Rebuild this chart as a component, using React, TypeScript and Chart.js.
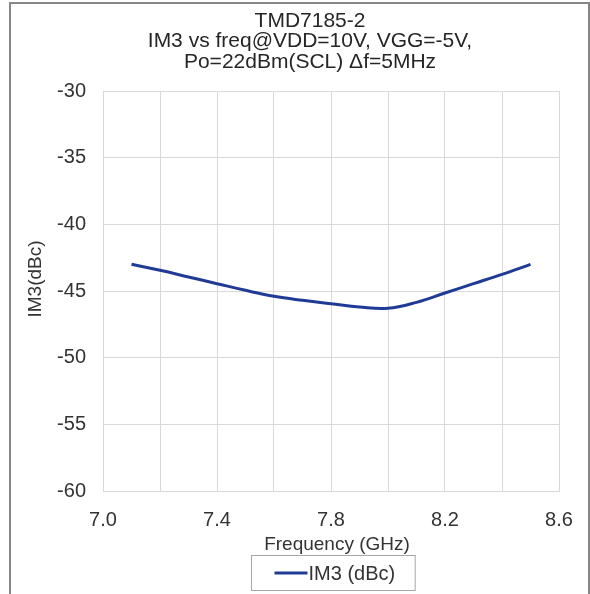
import React, { useEffect, useRef } from "react";
import { Chart, registerables } from "chart.js";

Chart.register(...registerables);

const titleLines = ["TMD7185-2", "IM3 vs freq@VDD=10V, VGG=-5V,", "Po=22dBm(SCL) \u0394f=5MHz"];
const xAxisTitle = "Frequency (GHz)";
const yAxisTitle = "IM3(dBc)";
const seriesLabel = "IM3 (dBc)";

const freqGHz = [7.1, 7.2, 7.3, 7.4, 7.5, 7.6, 7.7, 7.8, 7.9, 8.0, 8.1, 8.2, 8.3, 8.4, 8.5];
const im3dBc = [-43.0, -43.45, -43.95, -44.45, -44.95, -45.4, -45.7, -45.95, -46.2, -46.3, -45.85, -45.15, -44.45, -43.75, -43.0];

const xMin = 7.0;
const xMax = 8.6;
const xStep = 0.2;
const yMin = -60;
const yMax = -30;
const yStep = 5;

const FONT = "'Liberation Sans', Arial, sans-serif";
const TEXT = "#333333";
const LINE = "#1f3b95";
const GRID = "#d9d9d9";

const textPlugin = {
  id: "customTexts",
  afterDraw(chart: any) {
    const ctx = chart.ctx;
    const area = chart.chartArea;
    const cx = (area.left + area.right) / 2;
    ctx.save();
    ctx.fillStyle = "#262626";
    ctx.font = `21px ${FONT}`;
    ctx.textAlign = "center";
    ctx.textBaseline = "alphabetic";
    const tx = cx - 21;
    const baselines = [27, 47, 68];
    titleLines.forEach((t, i) => ctx.fillText(t, tx, baselines[i]));

    // y title
    ctx.fillStyle = TEXT;
    ctx.font = `19px ${FONT}`;
    ctx.save();
    ctx.translate(41, (area.top + area.bottom) / 2 - 12);
    ctx.rotate(-Math.PI / 2);
    ctx.textAlign = "center";
    ctx.fillText(yAxisTitle, 0, 0);
    ctx.restore();

    // x title
    ctx.textAlign = "center";
    ctx.fillText(xAxisTitle, cx + 6, 550);

    // legend
    const ds = chart.data.datasets[0];
    ctx.font = `20px ${FONT}`;
    const tw = ctx.measureText(ds.label).width;
    const lineLen = 33;
    const innerW = lineLen + 2 + tw;
    const boxW = innerW + 42;
    const boxL = Math.round(cx + 2 - boxW / 2) + 0.5;
    const boxT = 555.5;
    const boxH = 35;
    ctx.strokeStyle = "#a6a6a6";
    ctx.lineWidth = 1;
    ctx.fillStyle = "#ffffff";
    ctx.fillRect(boxL, boxT, boxW, boxH);
    ctx.strokeRect(boxL, boxT, boxW, boxH);
    const ly = boxT + boxH / 2;
    const lx = boxL + 23;
    ctx.strokeStyle = ds.borderColor;
    ctx.lineWidth = 3;
    ctx.beginPath();
    ctx.moveTo(lx, ly);
    ctx.lineTo(lx + lineLen, ly);
    ctx.stroke();
    ctx.fillStyle = TEXT;
    ctx.textAlign = "left";
    ctx.textBaseline = "alphabetic";
    ctx.fillText(ds.label, lx + lineLen + 1, ly + 7);
    ctx.restore();
  },
};

export default function App() {
  const ref = useRef<HTMLCanvasElement | null>(null);
  useEffect(() => {
    if (!ref.current) return;
    const chart = new Chart(ref.current, {
      type: "line",
      data: {
        datasets: [
          {
            label: seriesLabel,
            data: freqGHz.map((f, i) => ({ x: f, y: im3dBc[i] })),
            borderColor: LINE,
            backgroundColor: LINE,
            borderWidth: 3,
            pointRadius: 0,
            tension: 0.4,
            fill: false,
          },
        ],
      },
      options: {
        responsive: false,
        animation: false,
        devicePixelRatio: 1,
        layout: { padding: { top: 91, right: 31, left: 0, bottom: 0 } },
        plugins: {
          legend: { display: false },
          title: { display: false },
          tooltip: { enabled: false },
        },
        scales: {
          x: {
            type: "linear",
            min: xMin,
            max: xMax,
            afterFit: (s: any) => {
              s.height = 103;
            },
            ticks: {
              stepSize: xStep,
              autoSkip: false,
              maxRotation: 0,
              padding: 17,
              color: TEXT,
              font: { family: FONT, size: 20 },
              callback: (v: any) => {
                const k = Math.round((Number(v) - xMin) * 10);
                return k % 4 === 0 ? Number(v).toFixed(1) : "";
              },
            },
            grid: { color: GRID, lineWidth: 1, drawTicks: false },
            border: { color: GRID, width: 1 },
          },
          y: {
            type: "linear",
            min: yMin,
            max: yMax,
            afterFit: (s: any) => {
              s.width = 103;
            },
            ticks: {
              stepSize: yStep,
              padding: 17,
              color: TEXT,
              font: { family: FONT, size: 20 },
            },
            grid: { color: GRID, lineWidth: 1, drawTicks: false },
            border: { color: GRID, width: 1 },
          },
        },
      },
      plugins: [textPlugin],
    });
    return () => chart.destroy();
  }, []);

  return (
    <>
      <canvas
        ref={ref}
        width={590}
        height={594}
        style={{ position: "absolute", left: 0, top: 0, width: 590, height: 594 }}
      />
      <div
        style={{
          position: "absolute",
          left: 9,
          top: 2,
          width: 581,
          height: 592,
          boxSizing: "border-box",
          border: "2px solid #878787",
          borderBottom: "none",
          pointerEvents: "none",
        }}
      />
    </>
  );
}
